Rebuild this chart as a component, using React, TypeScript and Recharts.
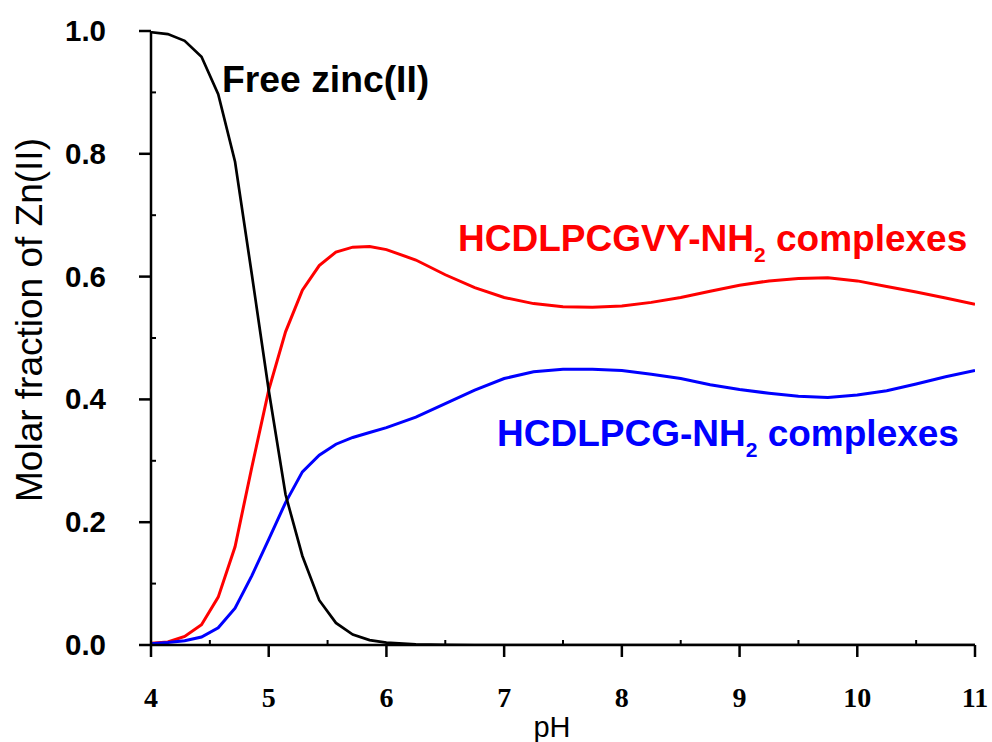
import React from "react";
import { LineChart, Line, XAxis, YAxis } from "recharts";

const pH = [4.0, 4.143, 4.286, 4.429, 4.571, 4.714, 4.857, 5.0, 5.143, 5.286, 5.429, 5.571, 5.714, 5.857, 6.0, 6.25, 6.5, 6.75, 7.0, 7.25, 7.5, 7.75, 8.0, 8.25, 8.5, 8.75, 9.0, 9.25, 9.5, 9.75, 10.0, 10.25, 10.5, 10.75, 11.0];
const freeZinc = [0.998, 0.995, 0.984, 0.958, 0.897, 0.787, 0.603, 0.415, 0.245, 0.145, 0.073, 0.036, 0.017, 0.008, 0.004, 0.001, 0.0003, 0, 0, 0, 0, 0, 0, 0, 0, 0, 0, 0, 0, 0, 0, 0, 0, 0, 0];
const hcdlpcgvy = [0.003, 0.005, 0.014, 0.033, 0.078, 0.16, 0.29, 0.415, 0.51, 0.578, 0.618, 0.64, 0.648, 0.649, 0.644, 0.627, 0.603, 0.582, 0.566, 0.556, 0.551, 0.55, 0.552, 0.558, 0.566, 0.576, 0.586, 0.593, 0.597, 0.598, 0.593, 0.584, 0.575, 0.565, 0.555];
const hcdlpcg = [0.002, 0.004, 0.007, 0.013, 0.028, 0.06, 0.113, 0.172, 0.232, 0.282, 0.309, 0.327, 0.338, 0.346, 0.354, 0.371, 0.393, 0.415, 0.434, 0.445, 0.449, 0.449, 0.447, 0.441, 0.434, 0.424, 0.416, 0.41, 0.405, 0.403, 0.407, 0.414, 0.425, 0.437, 0.447];

const xTicks = [4, 4.5, 5, 5.5, 6, 6.5, 7, 7.5, 8, 8.5, 9, 9.5, 10, 10.5, 11];
const yTicks = [0, 0.1, 0.2, 0.3, 0.4, 0.5, 0.6, 0.7, 0.8, 0.9, 1.0];

const data = pH.map((p, i) => ({
  pH: p,
  free: freeZinc[i],
  vy: hcdlpcgvy[i],
  g: hcdlpcg[i],
}));

const SANS = "'Liberation Sans', Arial, Helvetica, sans-serif";
const SERIF = "'Liberation Serif', 'Times New Roman', serif";
const TW = 2.5;

const isMajorX = (v: number) => Math.abs(v - Math.round(v)) < 1e-6;
const isMajorY = (v: number) => Math.round(v * 10) % 2 === 0;

const BottomTick = (props: any) => {
  const { x, y, payload } = props;
  const v = payload.value;
  if (isMajorX(v)) {
    return (
      <g>
        <line x1={x} y1={y} x2={x} y2={y + 12} stroke="#000" strokeWidth={TW} />
        <text x={x} y={y + 62} textAnchor="middle" fontFamily={SERIF} fontWeight="bold" fontSize={28} fill="#000">
          {v}
        </text>
      </g>
    );
  }
  return <line x1={x} y1={y} x2={x} y2={y - 5} stroke="#000" strokeWidth={2} />;
};

const TopTick = (props: any) => {
  const { x, y } = props;
  return <line x1={x} y1={y} x2={x} y2={y + 5} stroke="#000" strokeWidth={2} />;
};

const LeftTick = (props: any) => {
  const { x, y, payload } = props;
  const v = payload.value;
  if (isMajorY(v)) {
    return (
      <g>
        <line x1={x - 12} y1={y} x2={x} y2={y} stroke="#000" strokeWidth={TW} />
        <text x={x - 45} y={y + 10} textAnchor="end" fontFamily={SANS} fontWeight="bold" fontSize={29.5} fill="#000">
          {v.toFixed(1)}
        </text>
      </g>
    );
  }
  return <line x1={x} y1={y} x2={x + 5} y2={y} stroke="#000" strokeWidth={2} />;
};

const RightTick = (props: any) => {
  const { x, y } = props;
  return <line x1={x - 5} y1={y} x2={x} y2={y} stroke="#000" strokeWidth={2} />;
};

export default function App() {
  return (
    <div style={{ position: "absolute", left: 0, top: 0, width: 992, height: 742, background: "#fff" }}>
      <LineChart width={992} height={742} data={data} margin={{ top: 31, right: 17, bottom: 37, left: 71 }}>
        <XAxis
          dataKey="pH"
          type="number"
          domain={[4, 11]}
          ticks={xTicks}
          interval={0}
          height={60}
          tickSize={0}
          tickMargin={0}
          tickLine={false}
          tick={<BottomTick />}
          axisLine={{ stroke: "#000", strokeWidth: TW }}
          allowDataOverflow
        />
        <XAxis
          xAxisId="top"
          orientation="top"
          dataKey="pH"
          type="number"
          domain={[4, 11]}
          ticks={xTicks}
          interval={0}
          height={0}
          tickSize={0}
          tickMargin={0}
          tickLine={false}
          tick={<TopTick />}
          axisLine={{ stroke: "#000", strokeWidth: TW }}
          allowDataOverflow
        />
        <YAxis
          type="number"
          domain={[0, 1]}
          ticks={yTicks}
          interval={0}
          width={80}
          tickSize={0}
          tickMargin={0}
          tickLine={false}
          tick={<LeftTick />}
          axisLine={{ stroke: "#000", strokeWidth: TW }}
          allowDataOverflow
        />
        <YAxis
          yAxisId="right"
          orientation="right"
          type="number"
          domain={[0, 1]}
          ticks={yTicks}
          interval={0}
          width={0}
          tickSize={0}
          tickMargin={0}
          tickLine={false}
          tick={<RightTick />}
          axisLine={{ stroke: "#000", strokeWidth: TW }}
          allowDataOverflow
        />
        <Line type="linear" dataKey="vy" stroke="#ff0000" strokeWidth={3} dot={false} isAnimationActive={false} />
        <Line type="linear" dataKey="g" stroke="#0000ff" strokeWidth={3} dot={false} isAnimationActive={false} />
        <Line type="linear" dataKey="free" stroke="#000000" strokeWidth={2.7} dot={false} isAnimationActive={false} />
      </LineChart>
      <svg
        width={992}
        height={742}
        style={{ position: "absolute", left: 0, top: 0, pointerEvents: "none" }}
      >
        <text
          x={42}
          y={320}
          transform="rotate(-90 42 320)"
          textAnchor="middle"
          fontFamily={SANS}
          fontSize={37}
          fill="#000"
        >
          Molar fraction of Zn(II)
        </text>
        <text x={552} y={737} textAnchor="middle" fontFamily={SANS} fontSize={29} fill="#000">
          pH
        </text>
        <text x={222} y={92} fontFamily={SANS} fontWeight="bold" fontSize={37.3} fill="#000">
          Free zinc(II)
        </text>
        <text x={458} y={251} fontFamily={SANS} fontWeight="bold" fontSize={37} fill="#ff0000">
          <tspan>HCDLPCGVY-NH</tspan>
          <tspan fontSize={21} dy={11}>2</tspan>
          <tspan dy={-11}> complexes</tspan>
        </text>
        <text x={497} y={446} fontFamily={SANS} fontWeight="bold" fontSize={37} fill="#0000ff">
          <tspan>HCDLPCG-NH</tspan>
          <tspan fontSize={21} dy={11}>2</tspan>
          <tspan dy={-11}> complexes</tspan>
        </text>
      </svg>
    </div>
  );
}
